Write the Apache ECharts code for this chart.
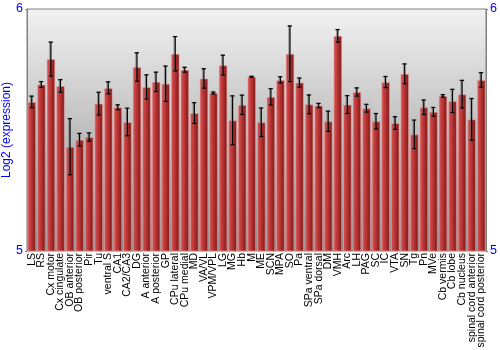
<!DOCTYPE html>
<html>
<head>
<meta charset="utf-8">
<script src="https://cdn.jsdelivr.net/npm/echarts@6/dist/echarts.min.js"></script>
<style>html,body{margin:0;padding:0;background:#fff}#c{width:500px;height:350px}</style>
</head>
<body>
<div id="c"></div>
<script>
const categories = ["LS","RS","Cx motor","Cx cingulate","OB anterior","OB posterior","Pir","Tu","ventral S","CA1","CA2/CA3","DG","A anterior","A posterior","GP","CPu lateral","CPu medial","MD","VA/VL","VPM/VPL","LG","MG","Hb","M","ME","SCN","MPA","SO","Pa","SPa ventral","SPa dorsal","DM","VMH","Arc","LH","PAG","SC","IC","VTA","SN","Tg","Pn","MVe","Cb vermis","Cb lobe","Cb nucleus","spinal cord anterior","spinal cord posterior"];
const means = [5.616,5.688,5.793,5.682,5.431,5.460,5.471,5.609,5.674,5.594,5.533,5.760,5.678,5.699,5.691,5.815,5.749,5.570,5.713,5.653,5.768,5.540,5.604,5.720,5.532,5.637,5.707,5.815,5.696,5.606,5.601,5.536,5.889,5.605,5.657,5.590,5.536,5.698,5.529,5.732,5.482,5.594,5.575,5.641,5.620,5.648,5.544,5.707];
const errors = [0.024,0.012,0.070,0.026,0.116,0.026,0.017,0.047,0.025,0.010,0.057,0.059,0.050,0.040,0.073,0.071,0.010,0.043,0.040,0.004,0.041,0.101,0.040,0.002,0.059,0.034,0.013,0.115,0.019,0.039,0.009,0.042,0.026,0.037,0.017,0.016,0.032,0.023,0.026,0.041,0.059,0.030,0.018,0.005,0.048,0.057,0.086,0.030];
const yTicks = [5, 6];

const chart = echarts.init(document.getElementById('c'), null, {renderer:'canvas'});
const errData = means.map((m,i)=>[i, m - errors[i], m + errors[i]]);
const FONT = 'Liberation Sans, Arial, sans-serif';
const axisLabelStyle = {color:'#0000ff', fontSize:12.5, fontFamily:FONT};
chart.setOption({
  animation:false,
  backgroundColor:'#ffffff',
  grid:{left:27, right:14, top:9, bottom:99, containLabel:false, outerBoundsMode:'none',
    show:true, borderColor:'#808080', borderWidth:1,
    backgroundColor:new echarts.graphic.LinearGradient(0,0,0,1,[{offset:0,color:'#f2f2f2'},{offset:1,color:'#8c8c8c'}])},
  xAxis:{type:'category', data:categories,
    axisLine:{show:false}, axisTick:{show:false},
    axisLabel:{interval:0, rotate:90, color:'#000', fontSize:10.5, margin:2, fontFamily:FONT}},
  yAxis:[
    {type:'value', min:yTicks[0], max:yTicks[1], interval:1, position:'left',
      name:'Log2 (expression)', nameLocation:'middle', nameGap:14, nameMoveOverlap:false,
      nameTextStyle:{color:'#0000ff', fontSize:12, fontFamily:FONT},
      axisLine:{show:true, lineStyle:{color:'#808080'}}, axisTick:{show:true, length:2, lineStyle:{color:'#808080'}},
      splitLine:{show:false}, axisLabel:Object.assign({margin:4}, axisLabelStyle)},
    {type:'value', min:yTicks[0], max:yTicks[1], interval:1, position:'right',
      axisLine:{show:true, lineStyle:{color:'#808080'}}, axisTick:{show:true, length:2, lineStyle:{color:'#808080'}},
      splitLine:{show:false}, axisLabel:Object.assign({margin:4}, axisLabelStyle)}
  ],
  series:[
    {type:'bar', data:means, barCategoryGap:'9%',
      itemStyle:{color:new echarts.graphic.LinearGradient(0,0,1,0,[{offset:0,color:'#d85c5c'},{offset:0.35,color:'#c43c3c'},{offset:1,color:'#7c1414'}]),
        borderColor:'rgba(235,170,170,0.55)', borderWidth:1}},
    {type:'custom', data:errData, z:10,
      renderItem:function(params, api){
        const x = api.value(0);
        const lo = api.coord([x, api.value(1)]);
        const hi = api.coord([x, api.value(2)]);
        const cx = lo[0];
        const c = 2;
        return {type:'group', children:[
          {type:'line', shape:{x1:cx-1, y1:hi[1], x2:cx-1, y2:lo[1]}, style:{stroke:'rgba(110,110,110,0.6)', lineWidth:1.5}},
          {type:'line', shape:{x1:cx-c-1, y1:hi[1], x2:cx+c-1, y2:hi[1]}, style:{stroke:'rgba(110,110,110,0.6)', lineWidth:1.5}},
          {type:'line', shape:{x1:cx-c-1, y1:lo[1], x2:cx+c-1, y2:lo[1]}, style:{stroke:'rgba(110,110,110,0.6)', lineWidth:1.5}},
          {type:'line', shape:{x1:cx, y1:hi[1], x2:cx, y2:lo[1]}, style:{stroke:'#000', lineWidth:1.2}},
          {type:'line', shape:{x1:cx-c, y1:hi[1], x2:cx+c, y2:hi[1]}, style:{stroke:'#000', lineWidth:1.2}},
          {type:'line', shape:{x1:cx-c, y1:lo[1], x2:cx+c, y2:lo[1]}, style:{stroke:'#000', lineWidth:1.2}}
        ]};
      }}
  ]
});
</script>
</body>
</html>
